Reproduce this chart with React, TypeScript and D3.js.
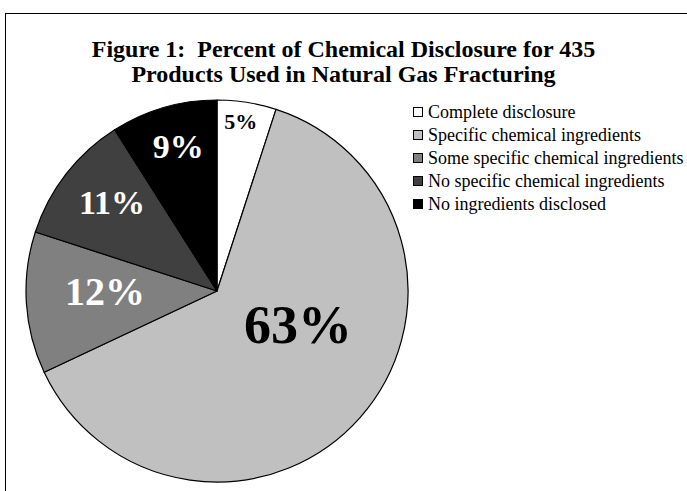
import { useEffect, useRef } from "react";
import * as d3 from "d3";

// chart data
const categories = [
  "Complete disclosure",
  "Specific chemical ingredients",
  "Some specific chemical ingredients",
  "No specific chemical ingredients",
  "No ingredients disclosed",
];
const percents = [5, 63, 12, 11, 9];
const sliceColors = ["#ffffff", "#c0c0c0", "#808080", "#404040", "#000000"];
const labelColors = ["#000", "#000", "#fff", "#fff", "#fff"];
const titleLines = [
  "Figure 1:  Percent of Chemical Disclosure for 435",
  "Products Used in Natural Gas Fracturing",
];

// label placement: [radius, angle in degrees from 12 o'clock, font size]
const labelLayout: [number, number, number][] = [
  [171, 8, 22],
  [88, 113, 54],
  [112, 270, 40],
  [137, 310, 34],
  [150, 345, 34],
];

export default function App() {
  const svgRef = useRef<SVGSVGElement>(null);

  useEffect(() => {
    const el = svgRef.current;
    if (!el) return;
    const svg = d3.select(el);
    svg.selectAll("*").remove();

    const W = 687;
    const H = 491;
    const serif = "'Liberation Serif', 'Times New Roman', serif";

    svg.append("rect").attr("width", W).attr("height", H).attr("fill", "#fff");

    // outer frame (cut off on the right and bottom)
    svg
      .append("rect")
      .attr("x", 5.5)
      .attr("y", 13.5)
      .attr("width", W + 10)
      .attr("height", H + 10)
      .attr("fill", "none")
      .attr("stroke", "#000")
      .attr("stroke-width", 1);

    // title
    svg
      .selectAll("text.title")
      .data(titleLines)
      .enter()
      .append("text")
      .attr("class", "title")
      .attr("x", W / 2)
      .attr("y", (_d, i) => 57 + i * 25)
      .attr("text-anchor", "middle")
      .style("font-family", serif)
      .style("font-weight", "bold")
      .style("font-size", "24px")
      .style("white-space", "pre")
      .text((d) => d);

    // pie
    const cx = 217;
    const cy = 291;
    const r = 191;
    const g = svg.append("g").attr("transform", `translate(${cx},${cy})`);

    const pie = d3
      .pie<number>()
      .sort(null)
      .value((d) => d);
    const arcs = pie(percents);
    const arc = d3.arc<d3.PieArcDatum<number>>().innerRadius(0).outerRadius(r);

    g.selectAll("path")
      .data(arcs)
      .enter()
      .append("path")
      .attr("d", arc)
      .attr("fill", (_d, i) => sliceColors[i])
      .attr("stroke", "#000")
      .attr("stroke-width", 1.2)
      .attr("stroke-linejoin", "round");

    g.selectAll("text.lbl")
      .data(arcs)
      .enter()
      .append("text")
      .attr("class", "lbl")
      .attr("x", (_d, i) => {
        const [lr, ang] = labelLayout[i];
        return lr * Math.sin((ang * Math.PI) / 180);
      })
      .attr("y", (_d, i) => {
        const [lr, ang] = labelLayout[i];
        return -lr * Math.cos((ang * Math.PI) / 180);
      })
      .attr("text-anchor", "middle")
      .attr("dominant-baseline", "central")
      .attr("fill", (_d, i) => labelColors[i])
      .style("font-family", serif)
      .style("font-weight", "bold")
      .style("font-size", (_d, i) => `${labelLayout[i][2]}px`)
      .text((d) => `${d.data}%`);

    // legend
    const legendY = d3
      .scalePoint<string>()
      .domain(categories)
      .range([112, 204]);
    const leg = svg
      .append("g")
      .selectAll("g")
      .data(categories)
      .enter()
      .append("g")
      .attr("transform", (d) => `translate(413,${legendY(d)})`);
    leg
      .append("rect")
      .attr("x", 0.5)
      .attr("y", -4.5)
      .attr("width", 9)
      .attr("height", 9)
      .attr("fill", (_d, i) => sliceColors[i])
      .attr("stroke", "#000")
      .attr("stroke-width", 1);
    leg
      .append("text")
      .attr("x", 15)
      .attr("y", 0)
      .attr("dominant-baseline", "central")
      .style("font-family", serif)
      .style("font-size", "18px")
      .text((d) => d);
  }, []);

  return (
    <svg
      ref={svgRef}
      width={687}
      height={491}
      style={{ position: "absolute", left: 0, top: 0, display: "block" }}
    />
  );
}
